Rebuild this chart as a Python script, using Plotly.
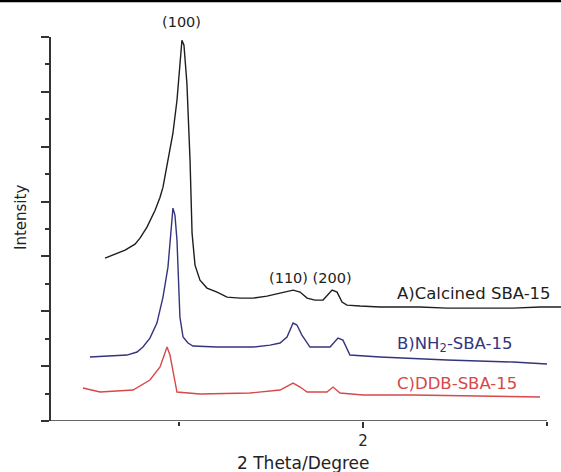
import plotly.graph_objects as go

# 2 Theta (degree) and intensity (arbitrary, offset) values
theta_a = [0.598, 0.652, 0.707, 0.761, 0.788, 0.826, 0.870, 0.897, 0.913, 0.940, 0.967, 0.989,
           1.005, 1.016, 1.027, 1.043, 1.060, 1.071, 1.087, 1.114, 1.152, 1.207, 1.261, 1.332,
           1.402, 1.478, 1.549, 1.620, 1.658, 1.696, 1.739, 1.783, 1.832, 1.859, 1.886, 1.913,
           1.984, 2.092, 2.310, 2.457, 2.636, 2.815, 2.962, 3.076]
int_a = [2.969, 3.042, 3.115, 3.224, 3.333, 3.534, 3.843, 4.080, 4.262, 4.754, 5.246, 5.847,
         6.485, 6.940, 6.849, 6.157, 4.754, 3.424, 2.842, 2.568, 2.423, 2.350, 2.259, 2.240,
         2.240, 2.277, 2.332, 2.386, 2.350, 2.240, 2.204, 2.204, 2.386, 2.350, 2.168, 2.113,
         2.095, 2.077, 2.077, 2.058, 2.058, 2.058, 2.077, 2.077]

theta_b = [0.516, 0.625, 0.717, 0.772, 0.804, 0.842, 0.880, 0.913, 0.940, 0.957, 0.967, 0.978,
           0.989, 1.005, 1.022, 1.049, 1.076, 1.207, 1.402, 1.495, 1.549, 1.587, 1.620, 1.641,
           1.668, 1.712, 1.821, 1.864, 1.891, 1.929, 2.092, 2.457, 2.815, 3.000]
int_b = [1.166, 1.184, 1.202, 1.257, 1.348, 1.512, 1.785, 2.259, 2.805, 3.479, 3.880, 3.752,
         3.297, 1.894, 1.530, 1.421, 1.366, 1.348, 1.348, 1.384, 1.421, 1.530, 1.785, 1.749,
         1.566, 1.348, 1.348, 1.512, 1.475, 1.202, 1.166, 1.111, 1.075, 1.038]

theta_c = [0.478, 0.571, 0.750, 0.842, 0.897, 0.918, 0.935, 0.951, 0.962, 0.989, 1.114, 1.386,
           1.549, 1.620, 1.658, 1.696, 1.804, 1.837, 1.875, 2.000, 2.272, 2.636, 2.962]
int_c = [0.601, 0.528, 0.565, 0.747, 0.984, 1.202, 1.348, 1.202, 0.984, 0.528, 0.492, 0.510,
         0.565, 0.692, 0.619, 0.528, 0.528, 0.619, 0.510, 0.474, 0.474, 0.455, 0.437]

series_names = ["A)Calcined SBA-15", "B)NH<sub>2</sub>-SBA-15", "C)DDB-SBA-15"]
series_colors = ["#1e1e1e", "#34347e", "#d84848"]
label_pos = [(2.602, 2.33), (2.502, 1.40), (2.510, 0.69)]
peak_labels = [("(100)", 1.016, 7.27), ("(110) (200)", 1.717, 2.61)]
x_tick_vals = [2]
x_tick_text = ["2"]

FONT = "DejaVu Sans"
x0 = 1 + (51 - 179) / 184
x1 = 1 + (561 - 179) / 184


def xpaper(v):
    return (v - x0) / (x1 - x0)


def ypaper(v):
    return v / 7.0


fig = go.Figure()
for th, it, col in [(theta_a, int_a, series_colors[0]),
                    (theta_b, int_b, series_colors[1]),
                    (theta_c, int_c, series_colors[2])]:
    fig.add_trace(go.Scatter(x=th, y=it, mode="lines",
                             line=dict(color=col, width=1.4), showlegend=False))

annotations = []
for (name, col, (lx, ly)) in zip(series_names, series_colors, label_pos):
    annotations.append(dict(x=xpaper(lx), y=ypaper(ly), xref="paper", yref="paper", text=name,
                            showarrow=False, font=dict(family=FONT, size=16.5, color=col),
                            xanchor="center", yanchor="middle"))
for txt, px, py in peak_labels:
    annotations.append(dict(x=xpaper(px), y=ypaper(py), xref="paper", yref="paper", text=txt,
                            showarrow=False, font=dict(family=FONT, size=14.5, color="#222"),
                            xanchor="center", yanchor="middle"))
annotations.append(dict(x=(303 - 51) / 510, y=-(463 - 421) / 384, xref="paper", yref="paper",
                        text="2 Theta/Degree", showarrow=False,
                        font=dict(family=FONT, size=17, color="#222"),
                        xanchor="center", yanchor="middle"))
annotations.append(dict(x=-(51 - 21) / 510, y=(421 - 218) / 384, xref="paper", yref="paper",
                        text="Intensity", showarrow=False, textangle=-90,
                        font=dict(family=FONT, size=15, color="#222"),
                        xanchor="center", yanchor="middle"))

fig.update_layout(
    width=561, height=472,
    margin=dict(l=51, r=0, t=37, b=51, autoexpand=False),
    paper_bgcolor="white", plot_bgcolor="white",
    annotations=annotations,
    shapes=[
        dict(type="line", xref="x", yref="y", x0=x0, x1=3.0, y0=0, y1=0,
             line=dict(color="#333", width=1.6)),
        dict(type="line", xref="paper", yref="paper", x0=-0.11, x1=1.01,
             y0=(421 - 1) / 384, y1=(421 - 1) / 384, line=dict(color="black", width=2.5)),
    ],
    xaxis=dict(range=[x0, x1], showgrid=False, zeroline=False, showline=False,
               tickmode="array", tickvals=x_tick_vals, ticktext=x_tick_text,
               ticks="outside", ticklen=6, tickwidth=1.5, tickcolor="#333",
               tickfont=dict(family=FONT, size=15, color="#222"),
               minor=dict(tickmode="linear", tick0=1, dtick=1, ticks="outside",
                          ticklen=4, tickwidth=1.5, tickcolor="#333")),
    yaxis=dict(range=[0, 7], showgrid=False, zeroline=False, showline=True,
               linecolor="#333", linewidth=1.6, showticklabels=False,
               tickmode="linear", tick0=0, dtick=1, ticks="outside", ticklen=8,
               tickwidth=1.5, tickcolor="#333",
               minor=dict(tickmode="linear", tick0=0.5, dtick=1, ticks="outside",
                          ticklen=4, tickwidth=1.5, tickcolor="#333")),
)

fig.write_html("out.html", config={"displayModeBar": False},
               post_script="document.body.style.margin='0';document.body.style.overflow='hidden';")
